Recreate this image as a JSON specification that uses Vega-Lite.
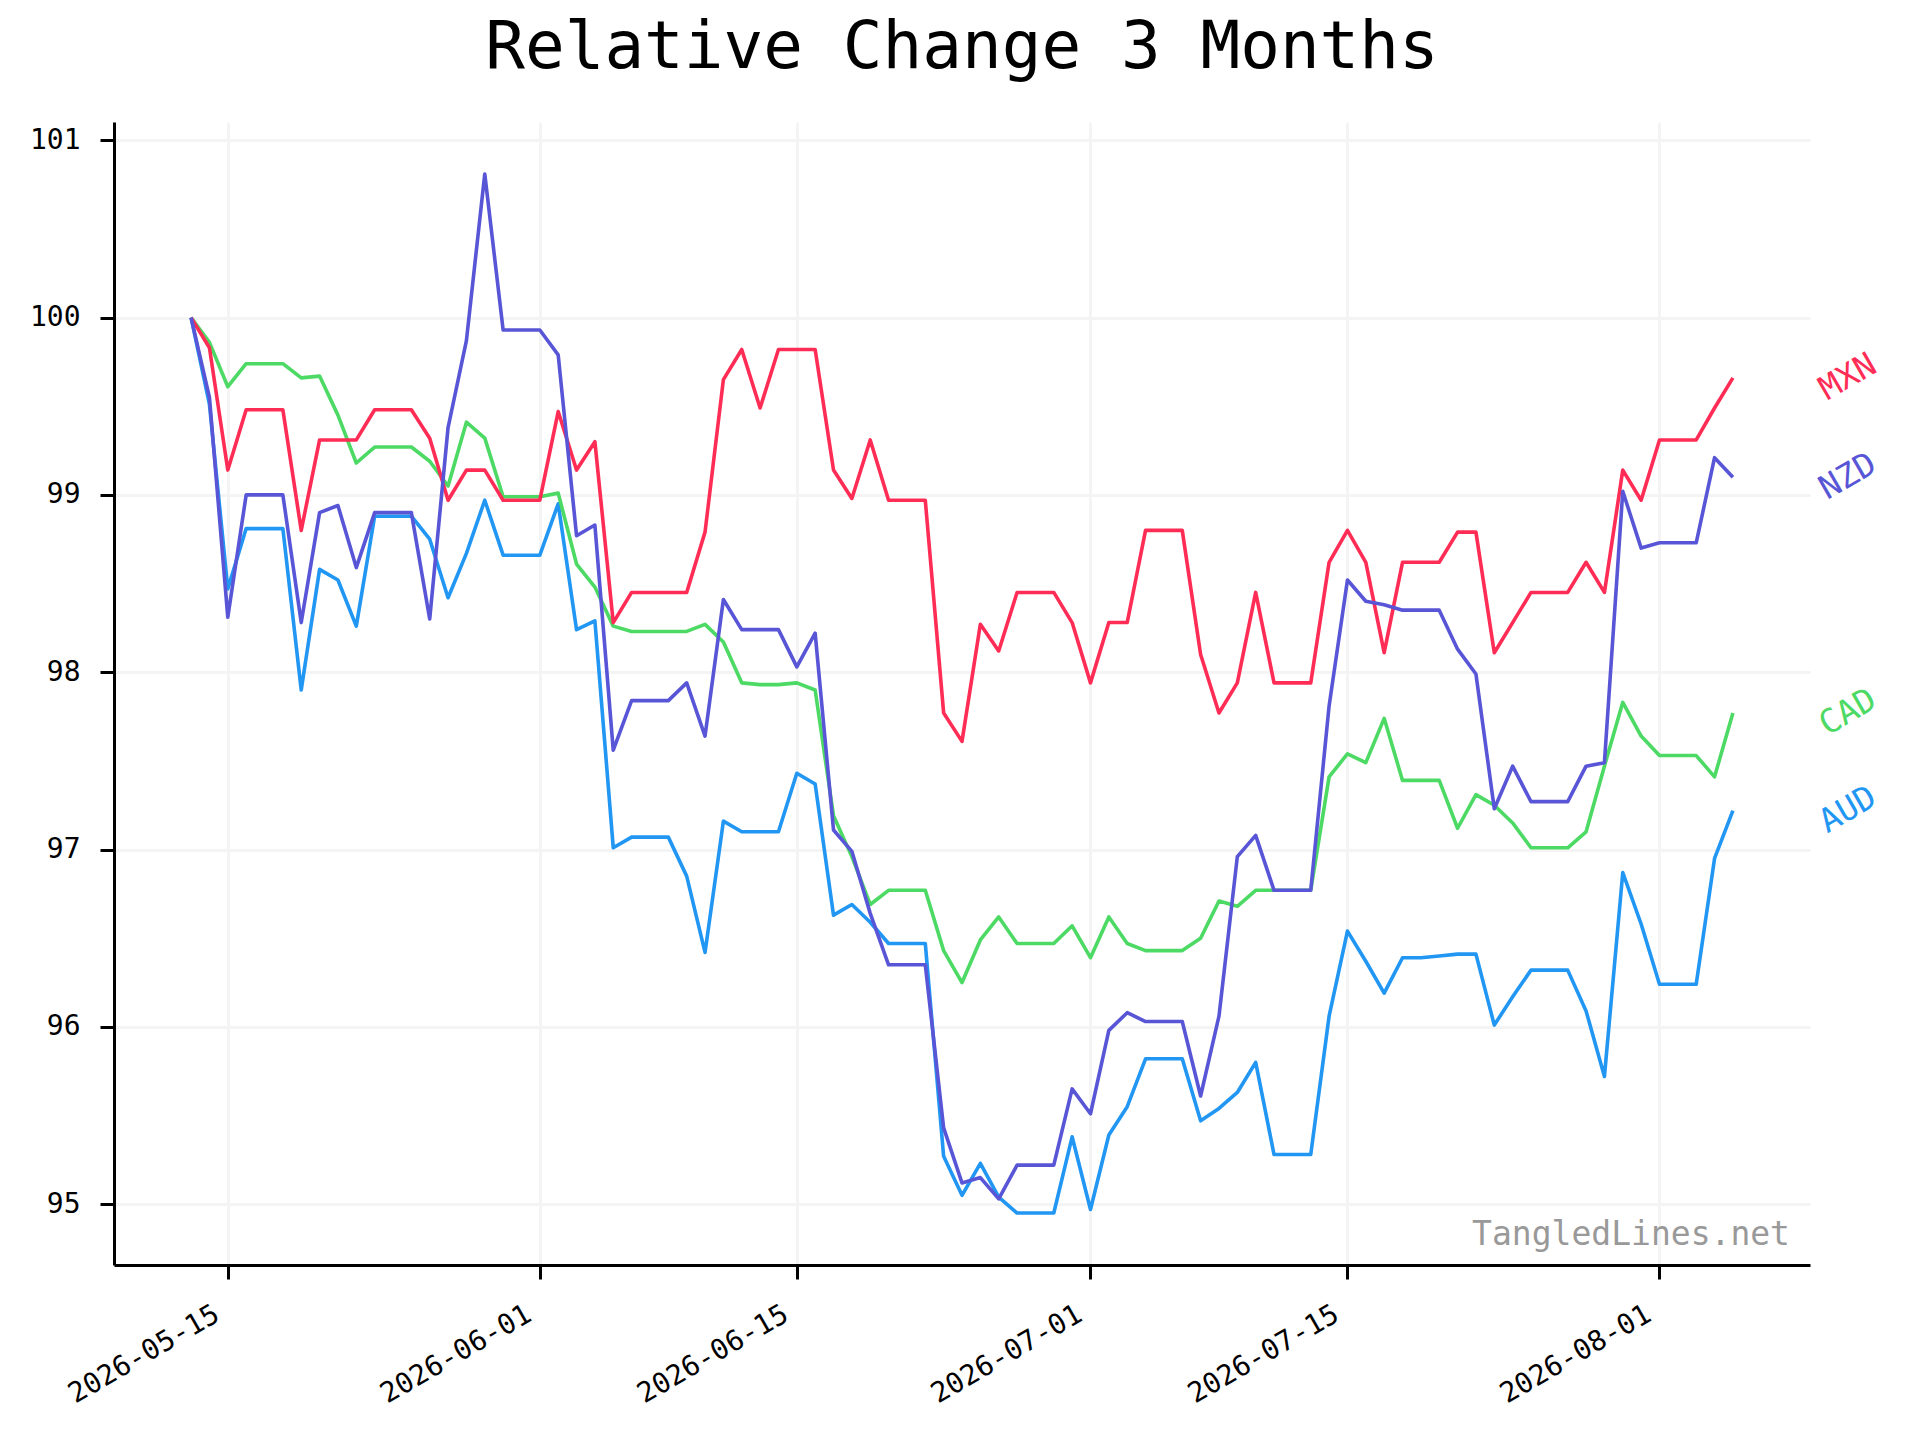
{
"$schema": "https://vega.github.io/schema/vega-lite/v6.json",
"width": 1696,
"height": 1143,
"autosize": {"type": "none"},
"padding": {"left": 114, "top": 122, "right": 110, "bottom": 175},
"background": "white",
"config": {"view": {"stroke": null}, "font": "DejaVu Sans Mono"},
"title": {"text": "Relative Change 3 Months", "font": "DejaVu Sans Mono", "fontSize": 66, "fontWeight": "normal", "color": "black", "anchor": "middle", "frame": "group", "baseline": "alphabetic", "offset": -12},
"data": {"values": [
{"date":"2026-05-13","currency":"AUD","value":100},{"date":"2026-05-14","currency":"AUD","value":99.51},{"date":"2026-05-15","currency":"AUD","value":98.47},{"date":"2026-05-16","currency":"AUD","value":98.81},{"date":"2026-05-17","currency":"AUD","value":98.81},{"date":"2026-05-18","currency":"AUD","value":98.81},{"date":"2026-05-19","currency":"AUD","value":97.90},{"date":"2026-05-20","currency":"AUD","value":98.58},{"date":"2026-05-21","currency":"AUD","value":98.52},{"date":"2026-05-22","currency":"AUD","value":98.26},{"date":"2026-05-23","currency":"AUD","value":98.88},{"date":"2026-05-24","currency":"AUD","value":98.88},{"date":"2026-05-25","currency":"AUD","value":98.88},{"date":"2026-05-26","currency":"AUD","value":98.75},{"date":"2026-05-27","currency":"AUD","value":98.42},{"date":"2026-05-28","currency":"AUD","value":98.67},{"date":"2026-05-29","currency":"AUD","value":98.97},{"date":"2026-05-30","currency":"AUD","value":98.66},{"date":"2026-05-31","currency":"AUD","value":98.66},
{"date":"2026-06-01","currency":"AUD","value":98.66},{"date":"2026-06-02","currency":"AUD","value":98.95},{"date":"2026-06-03","currency":"AUD","value":98.24},{"date":"2026-06-04","currency":"AUD","value":98.29},{"date":"2026-06-05","currency":"AUD","value":97.01},{"date":"2026-06-06","currency":"AUD","value":97.07},{"date":"2026-06-07","currency":"AUD","value":97.07},{"date":"2026-06-08","currency":"AUD","value":97.07},{"date":"2026-06-09","currency":"AUD","value":96.85},{"date":"2026-06-10","currency":"AUD","value":96.42},{"date":"2026-06-11","currency":"AUD","value":97.16},{"date":"2026-06-12","currency":"AUD","value":97.10},{"date":"2026-06-13","currency":"AUD","value":97.10},{"date":"2026-06-14","currency":"AUD","value":97.10},{"date":"2026-06-15","currency":"AUD","value":97.43},{"date":"2026-06-16","currency":"AUD","value":97.37},{"date":"2026-06-17","currency":"AUD","value":96.63},{"date":"2026-06-18","currency":"AUD","value":96.69},{"date":"2026-06-19","currency":"AUD","value":96.59},{"date":"2026-06-20","currency":"AUD","value":96.47},{"date":"2026-06-21","currency":"AUD","value":96.47},{"date":"2026-06-22","currency":"AUD","value":96.47},{"date":"2026-06-23","currency":"AUD","value":95.27},{"date":"2026-06-24","currency":"AUD","value":95.05},{"date":"2026-06-25","currency":"AUD","value":95.23},{"date":"2026-06-26","currency":"AUD","value":95.04},{"date":"2026-06-27","currency":"AUD","value":94.95},{"date":"2026-06-28","currency":"AUD","value":94.95},{"date":"2026-06-29","currency":"AUD","value":94.95},{"date":"2026-06-30","currency":"AUD","value":95.38},
{"date":"2026-07-01","currency":"AUD","value":94.97},{"date":"2026-07-02","currency":"AUD","value":95.39},{"date":"2026-07-03","currency":"AUD","value":95.55},{"date":"2026-07-04","currency":"AUD","value":95.82},{"date":"2026-07-05","currency":"AUD","value":95.82},{"date":"2026-07-06","currency":"AUD","value":95.82},{"date":"2026-07-07","currency":"AUD","value":95.47},{"date":"2026-07-08","currency":"AUD","value":95.54},{"date":"2026-07-09","currency":"AUD","value":95.63},{"date":"2026-07-10","currency":"AUD","value":95.80},{"date":"2026-07-11","currency":"AUD","value":95.28},{"date":"2026-07-12","currency":"AUD","value":95.28},{"date":"2026-07-13","currency":"AUD","value":95.28},{"date":"2026-07-14","currency":"AUD","value":96.06},{"date":"2026-07-15","currency":"AUD","value":96.54},{"date":"2026-07-16","currency":"AUD","value":96.37},{"date":"2026-07-17","currency":"AUD","value":96.19},{"date":"2026-07-18","currency":"AUD","value":96.39},{"date":"2026-07-19","currency":"AUD","value":96.39},{"date":"2026-07-20","currency":"AUD","value":96.40},{"date":"2026-07-21","currency":"AUD","value":96.41},{"date":"2026-07-22","currency":"AUD","value":96.41},{"date":"2026-07-23","currency":"AUD","value":96.01},{"date":"2026-07-24","currency":"AUD","value":96.17},{"date":"2026-07-25","currency":"AUD","value":96.32},{"date":"2026-07-26","currency":"AUD","value":96.32},{"date":"2026-07-27","currency":"AUD","value":96.32},{"date":"2026-07-28","currency":"AUD","value":96.09},{"date":"2026-07-29","currency":"AUD","value":95.72},{"date":"2026-07-30","currency":"AUD","value":96.87},{"date":"2026-07-31","currency":"AUD","value":96.58},
{"date":"2026-08-01","currency":"AUD","value":96.24},{"date":"2026-08-02","currency":"AUD","value":96.24},{"date":"2026-08-03","currency":"AUD","value":96.24},{"date":"2026-08-04","currency":"AUD","value":96.95},{"date":"2026-08-05","currency":"AUD","value":97.22},

{"date":"2026-05-13","currency":"CAD","value":100},{"date":"2026-05-14","currency":"CAD","value":99.86},{"date":"2026-05-15","currency":"CAD","value":99.61},{"date":"2026-05-16","currency":"CAD","value":99.74},{"date":"2026-05-17","currency":"CAD","value":99.74},{"date":"2026-05-18","currency":"CAD","value":99.74},{"date":"2026-05-19","currency":"CAD","value":99.66},{"date":"2026-05-20","currency":"CAD","value":99.67},{"date":"2026-05-21","currency":"CAD","value":99.45},{"date":"2026-05-22","currency":"CAD","value":99.18},{"date":"2026-05-23","currency":"CAD","value":99.27},{"date":"2026-05-24","currency":"CAD","value":99.27},{"date":"2026-05-25","currency":"CAD","value":99.27},{"date":"2026-05-26","currency":"CAD","value":99.19},{"date":"2026-05-27","currency":"CAD","value":99.05},{"date":"2026-05-28","currency":"CAD","value":99.41},{"date":"2026-05-29","currency":"CAD","value":99.32},{"date":"2026-05-30","currency":"CAD","value":98.99},{"date":"2026-05-31","currency":"CAD","value":98.99},
{"date":"2026-06-01","currency":"CAD","value":98.99},{"date":"2026-06-02","currency":"CAD","value":99.01},{"date":"2026-06-03","currency":"CAD","value":98.61},{"date":"2026-06-04","currency":"CAD","value":98.48},{"date":"2026-06-05","currency":"CAD","value":98.26},{"date":"2026-06-06","currency":"CAD","value":98.23},{"date":"2026-06-07","currency":"CAD","value":98.23},{"date":"2026-06-08","currency":"CAD","value":98.23},{"date":"2026-06-09","currency":"CAD","value":98.23},{"date":"2026-06-10","currency":"CAD","value":98.27},{"date":"2026-06-11","currency":"CAD","value":98.17},{"date":"2026-06-12","currency":"CAD","value":97.94},{"date":"2026-06-13","currency":"CAD","value":97.93},{"date":"2026-06-14","currency":"CAD","value":97.93},{"date":"2026-06-15","currency":"CAD","value":97.94},{"date":"2026-06-16","currency":"CAD","value":97.90},{"date":"2026-06-17","currency":"CAD","value":97.19},{"date":"2026-06-18","currency":"CAD","value":96.96},{"date":"2026-06-19","currency":"CAD","value":96.69},{"date":"2026-06-20","currency":"CAD","value":96.77},{"date":"2026-06-21","currency":"CAD","value":96.77},{"date":"2026-06-22","currency":"CAD","value":96.77},{"date":"2026-06-23","currency":"CAD","value":96.43},{"date":"2026-06-24","currency":"CAD","value":96.25},{"date":"2026-06-25","currency":"CAD","value":96.49},{"date":"2026-06-26","currency":"CAD","value":96.62},{"date":"2026-06-27","currency":"CAD","value":96.47},{"date":"2026-06-28","currency":"CAD","value":96.47},{"date":"2026-06-29","currency":"CAD","value":96.47},{"date":"2026-06-30","currency":"CAD","value":96.57},
{"date":"2026-07-01","currency":"CAD","value":96.39},{"date":"2026-07-02","currency":"CAD","value":96.62},{"date":"2026-07-03","currency":"CAD","value":96.47},{"date":"2026-07-04","currency":"CAD","value":96.43},{"date":"2026-07-05","currency":"CAD","value":96.43},{"date":"2026-07-06","currency":"CAD","value":96.43},{"date":"2026-07-07","currency":"CAD","value":96.50},{"date":"2026-07-08","currency":"CAD","value":96.71},{"date":"2026-07-09","currency":"CAD","value":96.68},{"date":"2026-07-10","currency":"CAD","value":96.77},{"date":"2026-07-11","currency":"CAD","value":96.77},{"date":"2026-07-12","currency":"CAD","value":96.77},{"date":"2026-07-13","currency":"CAD","value":96.77},{"date":"2026-07-14","currency":"CAD","value":97.41},{"date":"2026-07-15","currency":"CAD","value":97.54},{"date":"2026-07-16","currency":"CAD","value":97.49},{"date":"2026-07-17","currency":"CAD","value":97.74},{"date":"2026-07-18","currency":"CAD","value":97.39},{"date":"2026-07-19","currency":"CAD","value":97.39},{"date":"2026-07-20","currency":"CAD","value":97.39},{"date":"2026-07-21","currency":"CAD","value":97.12},{"date":"2026-07-22","currency":"CAD","value":97.31},{"date":"2026-07-23","currency":"CAD","value":97.25},{"date":"2026-07-24","currency":"CAD","value":97.15},{"date":"2026-07-25","currency":"CAD","value":97.01},{"date":"2026-07-26","currency":"CAD","value":97.01},{"date":"2026-07-27","currency":"CAD","value":97.01},{"date":"2026-07-28","currency":"CAD","value":97.10},{"date":"2026-07-29","currency":"CAD","value":97.47},{"date":"2026-07-30","currency":"CAD","value":97.83},{"date":"2026-07-31","currency":"CAD","value":97.64},
{"date":"2026-08-01","currency":"CAD","value":97.53},{"date":"2026-08-02","currency":"CAD","value":97.53},{"date":"2026-08-03","currency":"CAD","value":97.53},{"date":"2026-08-04","currency":"CAD","value":97.41},{"date":"2026-08-05","currency":"CAD","value":97.77},

{"date":"2026-05-13","currency":"MXN","value":100},{"date":"2026-05-14","currency":"MXN","value":99.83},{"date":"2026-05-15","currency":"MXN","value":99.14},{"date":"2026-05-16","currency":"MXN","value":99.48},{"date":"2026-05-17","currency":"MXN","value":99.48},{"date":"2026-05-18","currency":"MXN","value":99.48},{"date":"2026-05-19","currency":"MXN","value":98.80},{"date":"2026-05-20","currency":"MXN","value":99.31},{"date":"2026-05-21","currency":"MXN","value":99.31},{"date":"2026-05-22","currency":"MXN","value":99.31},{"date":"2026-05-23","currency":"MXN","value":99.48},{"date":"2026-05-24","currency":"MXN","value":99.48},{"date":"2026-05-25","currency":"MXN","value":99.48},{"date":"2026-05-26","currency":"MXN","value":99.32},{"date":"2026-05-27","currency":"MXN","value":98.97},{"date":"2026-05-28","currency":"MXN","value":99.14},{"date":"2026-05-29","currency":"MXN","value":99.14},{"date":"2026-05-30","currency":"MXN","value":98.97},{"date":"2026-05-31","currency":"MXN","value":98.97},
{"date":"2026-06-01","currency":"MXN","value":98.97},{"date":"2026-06-02","currency":"MXN","value":99.47},{"date":"2026-06-03","currency":"MXN","value":99.14},{"date":"2026-06-04","currency":"MXN","value":99.30},{"date":"2026-06-05","currency":"MXN","value":98.28},{"date":"2026-06-06","currency":"MXN","value":98.45},{"date":"2026-06-07","currency":"MXN","value":98.45},{"date":"2026-06-08","currency":"MXN","value":98.45},{"date":"2026-06-09","currency":"MXN","value":98.45},{"date":"2026-06-10","currency":"MXN","value":98.79},{"date":"2026-06-11","currency":"MXN","value":99.65},{"date":"2026-06-12","currency":"MXN","value":99.82},{"date":"2026-06-13","currency":"MXN","value":99.49},{"date":"2026-06-14","currency":"MXN","value":99.82},{"date":"2026-06-15","currency":"MXN","value":99.82},{"date":"2026-06-16","currency":"MXN","value":99.82},{"date":"2026-06-17","currency":"MXN","value":99.14},{"date":"2026-06-18","currency":"MXN","value":98.98},{"date":"2026-06-19","currency":"MXN","value":99.31},{"date":"2026-06-20","currency":"MXN","value":98.97},{"date":"2026-06-21","currency":"MXN","value":98.97},{"date":"2026-06-22","currency":"MXN","value":98.97},{"date":"2026-06-23","currency":"MXN","value":97.77},{"date":"2026-06-24","currency":"MXN","value":97.61},{"date":"2026-06-25","currency":"MXN","value":98.27},{"date":"2026-06-26","currency":"MXN","value":98.12},{"date":"2026-06-27","currency":"MXN","value":98.45},{"date":"2026-06-28","currency":"MXN","value":98.45},{"date":"2026-06-29","currency":"MXN","value":98.45},{"date":"2026-06-30","currency":"MXN","value":98.28},
{"date":"2026-07-01","currency":"MXN","value":97.94},{"date":"2026-07-02","currency":"MXN","value":98.28},{"date":"2026-07-03","currency":"MXN","value":98.28},{"date":"2026-07-04","currency":"MXN","value":98.80},{"date":"2026-07-05","currency":"MXN","value":98.80},{"date":"2026-07-06","currency":"MXN","value":98.80},{"date":"2026-07-07","currency":"MXN","value":98.10},{"date":"2026-07-08","currency":"MXN","value":97.77},{"date":"2026-07-09","currency":"MXN","value":97.94},{"date":"2026-07-10","currency":"MXN","value":98.45},{"date":"2026-07-11","currency":"MXN","value":97.94},{"date":"2026-07-12","currency":"MXN","value":97.94},{"date":"2026-07-13","currency":"MXN","value":97.94},{"date":"2026-07-14","currency":"MXN","value":98.62},{"date":"2026-07-15","currency":"MXN","value":98.80},{"date":"2026-07-16","currency":"MXN","value":98.62},{"date":"2026-07-17","currency":"MXN","value":98.11},{"date":"2026-07-18","currency":"MXN","value":98.62},{"date":"2026-07-19","currency":"MXN","value":98.62},{"date":"2026-07-20","currency":"MXN","value":98.62},{"date":"2026-07-21","currency":"MXN","value":98.79},{"date":"2026-07-22","currency":"MXN","value":98.79},{"date":"2026-07-23","currency":"MXN","value":98.11},{"date":"2026-07-24","currency":"MXN","value":98.28},{"date":"2026-07-25","currency":"MXN","value":98.45},{"date":"2026-07-26","currency":"MXN","value":98.45},{"date":"2026-07-27","currency":"MXN","value":98.45},{"date":"2026-07-28","currency":"MXN","value":98.62},{"date":"2026-07-29","currency":"MXN","value":98.45},{"date":"2026-07-30","currency":"MXN","value":99.14},{"date":"2026-07-31","currency":"MXN","value":98.97},
{"date":"2026-08-01","currency":"MXN","value":99.31},{"date":"2026-08-02","currency":"MXN","value":99.31},{"date":"2026-08-03","currency":"MXN","value":99.31},{"date":"2026-08-04","currency":"MXN","value":99.49},{"date":"2026-08-05","currency":"MXN","value":99.66},

{"date":"2026-05-13","currency":"NZD","value":100},{"date":"2026-05-14","currency":"NZD","value":99.55},{"date":"2026-05-15","currency":"NZD","value":98.31},{"date":"2026-05-16","currency":"NZD","value":99.00},{"date":"2026-05-17","currency":"NZD","value":99.00},{"date":"2026-05-18","currency":"NZD","value":99.00},{"date":"2026-05-19","currency":"NZD","value":98.28},{"date":"2026-05-20","currency":"NZD","value":98.90},{"date":"2026-05-21","currency":"NZD","value":98.94},{"date":"2026-05-22","currency":"NZD","value":98.59},{"date":"2026-05-23","currency":"NZD","value":98.90},{"date":"2026-05-24","currency":"NZD","value":98.90},{"date":"2026-05-25","currency":"NZD","value":98.90},{"date":"2026-05-26","currency":"NZD","value":98.30},{"date":"2026-05-27","currency":"NZD","value":99.38},{"date":"2026-05-28","currency":"NZD","value":99.87},{"date":"2026-05-29","currency":"NZD","value":100.81},{"date":"2026-05-30","currency":"NZD","value":99.93},{"date":"2026-05-31","currency":"NZD","value":99.93},
{"date":"2026-06-01","currency":"NZD","value":99.93},{"date":"2026-06-02","currency":"NZD","value":99.79},{"date":"2026-06-03","currency":"NZD","value":98.77},{"date":"2026-06-04","currency":"NZD","value":98.83},{"date":"2026-06-05","currency":"NZD","value":97.56},{"date":"2026-06-06","currency":"NZD","value":97.84},{"date":"2026-06-07","currency":"NZD","value":97.84},{"date":"2026-06-08","currency":"NZD","value":97.84},{"date":"2026-06-09","currency":"NZD","value":97.94},{"date":"2026-06-10","currency":"NZD","value":97.64},{"date":"2026-06-11","currency":"NZD","value":98.41},{"date":"2026-06-12","currency":"NZD","value":98.24},{"date":"2026-06-13","currency":"NZD","value":98.24},{"date":"2026-06-14","currency":"NZD","value":98.24},{"date":"2026-06-15","currency":"NZD","value":98.03},{"date":"2026-06-16","currency":"NZD","value":98.22},{"date":"2026-06-17","currency":"NZD","value":97.11},{"date":"2026-06-18","currency":"NZD","value":96.99},{"date":"2026-06-19","currency":"NZD","value":96.64},{"date":"2026-06-20","currency":"NZD","value":96.35},{"date":"2026-06-21","currency":"NZD","value":96.35},{"date":"2026-06-22","currency":"NZD","value":96.35},{"date":"2026-06-23","currency":"NZD","value":95.43},{"date":"2026-06-24","currency":"NZD","value":95.12},{"date":"2026-06-25","currency":"NZD","value":95.15},{"date":"2026-06-26","currency":"NZD","value":95.03},{"date":"2026-06-27","currency":"NZD","value":95.22},{"date":"2026-06-28","currency":"NZD","value":95.22},{"date":"2026-06-29","currency":"NZD","value":95.22},{"date":"2026-06-30","currency":"NZD","value":95.65},
{"date":"2026-07-01","currency":"NZD","value":95.51},{"date":"2026-07-02","currency":"NZD","value":95.98},{"date":"2026-07-03","currency":"NZD","value":96.08},{"date":"2026-07-04","currency":"NZD","value":96.03},{"date":"2026-07-05","currency":"NZD","value":96.03},{"date":"2026-07-06","currency":"NZD","value":96.03},{"date":"2026-07-07","currency":"NZD","value":95.61},{"date":"2026-07-08","currency":"NZD","value":96.06},{"date":"2026-07-09","currency":"NZD","value":96.96},{"date":"2026-07-10","currency":"NZD","value":97.08},{"date":"2026-07-11","currency":"NZD","value":96.77},{"date":"2026-07-12","currency":"NZD","value":96.77},{"date":"2026-07-13","currency":"NZD","value":96.77},{"date":"2026-07-14","currency":"NZD","value":97.81},{"date":"2026-07-15","currency":"NZD","value":98.52},{"date":"2026-07-16","currency":"NZD","value":98.40},{"date":"2026-07-17","currency":"NZD","value":98.38},{"date":"2026-07-18","currency":"NZD","value":98.35},{"date":"2026-07-19","currency":"NZD","value":98.35},{"date":"2026-07-20","currency":"NZD","value":98.35},{"date":"2026-07-21","currency":"NZD","value":98.13},{"date":"2026-07-22","currency":"NZD","value":97.99},{"date":"2026-07-23","currency":"NZD","value":97.23},{"date":"2026-07-24","currency":"NZD","value":97.47},{"date":"2026-07-25","currency":"NZD","value":97.27},{"date":"2026-07-26","currency":"NZD","value":97.27},{"date":"2026-07-27","currency":"NZD","value":97.27},{"date":"2026-07-28","currency":"NZD","value":97.47},{"date":"2026-07-29","currency":"NZD","value":97.49},{"date":"2026-07-30","currency":"NZD","value":99.02},{"date":"2026-07-31","currency":"NZD","value":98.70},
{"date":"2026-08-01","currency":"NZD","value":98.73},{"date":"2026-08-02","currency":"NZD","value":98.73},{"date":"2026-08-03","currency":"NZD","value":98.73},{"date":"2026-08-04","currency":"NZD","value":99.21},{"date":"2026-08-05","currency":"NZD","value":99.10}
]},
"layer": [
{"mark": {"type": "line", "strokeWidth": 3.6, "strokeJoin": "round"},
 "encoding": {
  "x": {"field": "date", "type": "temporal",
   "scale": {"type": "utc", "domain": [{"year": 2026, "month": 5, "date": 8, "hours": 19, "minutes": 12, "utc": true}, {"year": 2026, "month": 8, "date": 9, "hours": 4, "minutes": 48, "utc": true}]},
   "axis": {"values": [{"year": 2026, "month": 5, "date": 15, "utc": true}, {"year": 2026, "month": 6, "date": 1, "utc": true}, {"year": 2026, "month": 6, "date": 15, "utc": true}, {"year": 2026, "month": 7, "date": 1, "utc": true}, {"year": 2026, "month": 7, "date": 15, "utc": true}, {"year": 2026, "month": 8, "date": 1, "utc": true}],
    "format": "%Y-%m-%d", "title": null, "labelAngle": -30, "labelAlign": "right", "labelBaseline": "top", "labelFont": "DejaVu Sans Mono", "labelFontSize": 28, "labelColor": "black", "labelPadding": 21, "labelOffset": -18, "labelOverlap": false, "labelFlush": false,
    "tickSize": 14, "tickWidth": 3, "tickColor": "black", "domainColor": "black", "domainWidth": 3, "grid": true, "gridColor": "#f4f4f4", "gridWidth": 3}},
  "y": {"field": "value", "type": "quantitative",
   "scale": {"domain": [94.657, 101.103], "nice": false, "zero": false},
   "axis": {"values": [95, 96, 97, 98, 99, 100, 101], "format": "d", "title": null, "labelFont": "DejaVu Sans Mono", "labelFontSize": 28, "labelColor": "black", "labelPadding": 20, "tickSize": 14, "tickWidth": 3, "tickColor": "black", "domainColor": "black", "domainWidth": 3, "grid": true, "gridColor": "#f4f4f4", "gridWidth": 3}},
  "color": {"field": "currency", "type": "nominal", "scale": {"domain": ["MXN", "NZD", "CAD", "AUD"], "range": ["#FF2D55", "#5856D6", "#4CD964", "#2196F3"]}, "legend": null}
 }},
{"transform": [{"filter": "time(datum.date) === utc(2026, 7, 5)"}],
 "mark": {"type": "text", "angle": 330, "dx": 100, "dy": 57, "align": "center", "baseline": "middle", "font": "DejaVu Sans Mono", "fontSize": 33},
 "encoding": {
  "x": {"field": "date", "type": "temporal"},
  "y": {"field": "value", "type": "quantitative"},
  "text": {"field": "currency"},
  "color": {"field": "currency", "type": "nominal", "legend": null}
 }},
{"data": {"values": [{"site": "TangledLines.net"}]},
 "mark": {"type": "text", "align": "right", "baseline": "alphabetic", "font": "DejaVu Sans Mono", "fontSize": 33, "color": "#999999", "dx": -20, "dy": -20},
 "encoding": {
  "x": {"datum": {"year": 2026, "month": 8, "date": 9, "hours": 4, "minutes": 48, "utc": true}, "type": "temporal"},
  "y": {"datum": 94.657, "type": "quantitative"},
  "text": {"field": "site"}
 }}
]
}
